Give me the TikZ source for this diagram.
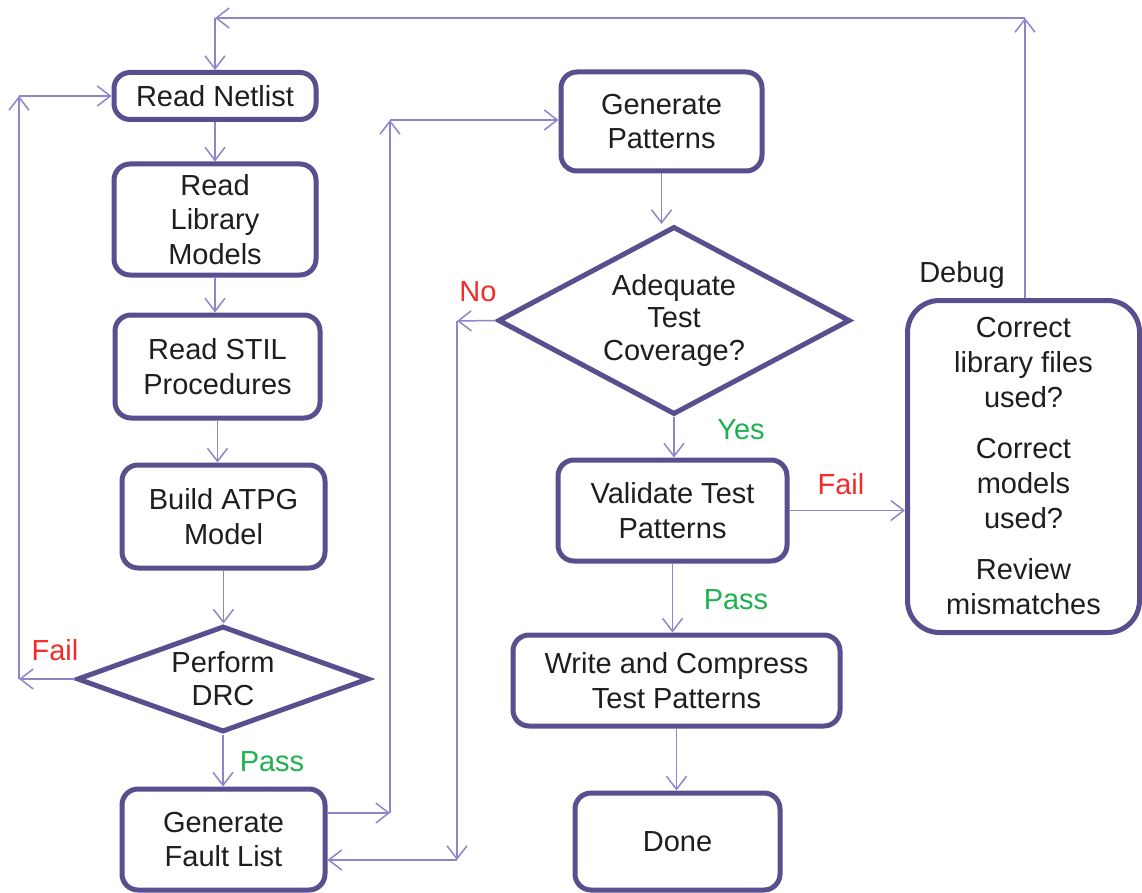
\documentclass[tikz,border=0pt]{standalone}
\usepackage{fontspec}
\setmainfont{Liberation Sans}
\usetikzlibrary{arrows.meta,shapes.geometric}
\definecolor{bord}{HTML}{5A4E8E}
\definecolor{conn}{HTML}{8C86CC}
\definecolor{failred}{HTML}{F52A2A}
\definecolor{passgreen}{HTML}{1FB050}
\definecolor{txt}{HTML}{1E1E1E}
\begin{document}
\begin{tikzpicture}[x=1pt,y=-1pt,
  box/.style={draw=bord, line width=5pt, rounded corners=16pt, fill=white, align=center, text=txt, font=\fontsize{29}{34.5}\selectfont, inner sep=0pt},
  dec/.style={draw=bord, line width=5pt, diamond, align=center, text=txt, font=\fontsize{29}{33}\selectfont, inner sep=0pt},
  arr/.style={draw=conn, line width=1.5pt, -{Straight Barb[length=13pt,width=20pt]}},
  lbl/.style={font=\fontsize{29}{34}\selectfont, inner sep=0pt}
]
\useasboundingbox (0,0) rectangle (1142,893);
\fill[white] (0,0) rectangle (1142,893);

% left column
\node[box, minimum width=202pt, minimum height=47pt] (netlist) at (215,96) {Read Netlist};
\node[box, minimum width=202pt, minimum height=111pt] (library) at (215,219.5) {Read\\Library\\Models};
\node[box, minimum width=205pt, minimum height=103pt] (stil) at (217.5,366.5) {Read STIL\\Procedures};
\node[box, minimum width=203pt, minimum height=103pt] (build) at (223.5,516.5) {Build ATPG\\Model};
\node[dec, shape aspect=2.7, minimum width=292pt, minimum height=106pt] (drc) at (223,679) {Perform\\DRC};
\node[box, minimum width=203pt, minimum height=101pt] (fault) at (223.5,839.5) {Generate\\Fault List};

% middle column
\node[box, minimum width=201pt, minimum height=99pt] (genpat) at (661.5,121.5) {Generate\\Patterns};
\node[dec, shape aspect=1.85, minimum width=352pt, minimum height=188pt] (cov) at (674,320.5) {Adequate\\Test\\Coverage?};
\node[box, minimum width=229pt, minimum height=101pt] (validate) at (672.5,510.5) {Validate Test\\Patterns};
\node[box, minimum width=327pt, minimum height=91pt] (write) at (676.5,680.5) {Write and Compress\\Test Patterns};
\node[box, minimum width=205pt, minimum height=97pt] (done) at (677.5,841.5) {Done};

% debug box
\node[box, rounded corners=32pt, minimum width=232pt, minimum height=332pt, font=\fontsize{29}{35}\selectfont] (debug) at (1023.5,466.5)
  {Correct\\library files\\used?\\[16pt]Correct\\models\\used?\\[16pt]Review\\mismatches};

% labels
\node[lbl, text=failred] (lfail1) at (55,650) {Fail};
\node[lbl, text=passgreen] (lpass1) at (272,762) {Pass};
\node[lbl, text=failred] (lno) at (478,292) {No};
\node[lbl, text=passgreen] (lyes) at (741,430) {Yes};
\node[lbl, text=failred] (lfail2) at (841,484) {Fail};
\node[lbl, text=passgreen] (lpass2) at (736,600) {Pass};
\node[lbl, text=txt] (ldebug) at (962,275) {Debug};

% coordinates
\coordinate (c1) at (19,679);
\coordinate (c2) at (19,96);
\coordinate (f1) at (390,813);
\coordinate (f2) at (390,120);
\coordinate (n1) at (457,321);
\coordinate (n2) at (457,860);
\coordinate (d1) at (1025,18);
\coordinate (d2) at (215,18);

% straight flow
\draw[arr] (netlist.south) -- (library.north);
\draw[arr] (library.south) -- (library.south |- stil.north);
\draw[arr] (stil.south) -- (stil.south |- build.north);
\draw[arr] (build.south) -- (build.south |- drc.north);
\draw[arr] (drc.south) -- (drc.south |- fault.north);
\draw[arr] (genpat.south) -- (genpat.south |- cov.north);
\draw[arr] (cov.south) -- (cov.south |- validate.north);
\draw[arr] (validate.south) -- (validate.south |- write.north);
\draw[arr] (write.south) -- (write.south |- done.north);
\draw[arr] (validate.east) -- (validate.east -| debug.west);

% DRC fail loop
\draw[arr] (drc.west) -- (c1);
\draw[arr] (c1) -- (c2);
\draw[arr] (c2) -- (netlist.west);

% fault list to generate patterns
\draw[arr] (fault.east |- f1) -- (f1);
\draw[arr] (f1) -- (f2);
\draw[arr] (f2) -- (genpat.west |- f2);

% coverage no loop
\draw[arr] (cov.west) -- (n1);
\draw[arr] (n1) -- (n2);
\draw[arr] (n2) -- (fault.east |- n2);

% debug loop
\draw[arr] (debug.north -| d1) -- (d1);
\draw[arr] (d1) -- (d2);
\draw[arr] (d2) -- (netlist.north);
\end{tikzpicture}
\end{document}
